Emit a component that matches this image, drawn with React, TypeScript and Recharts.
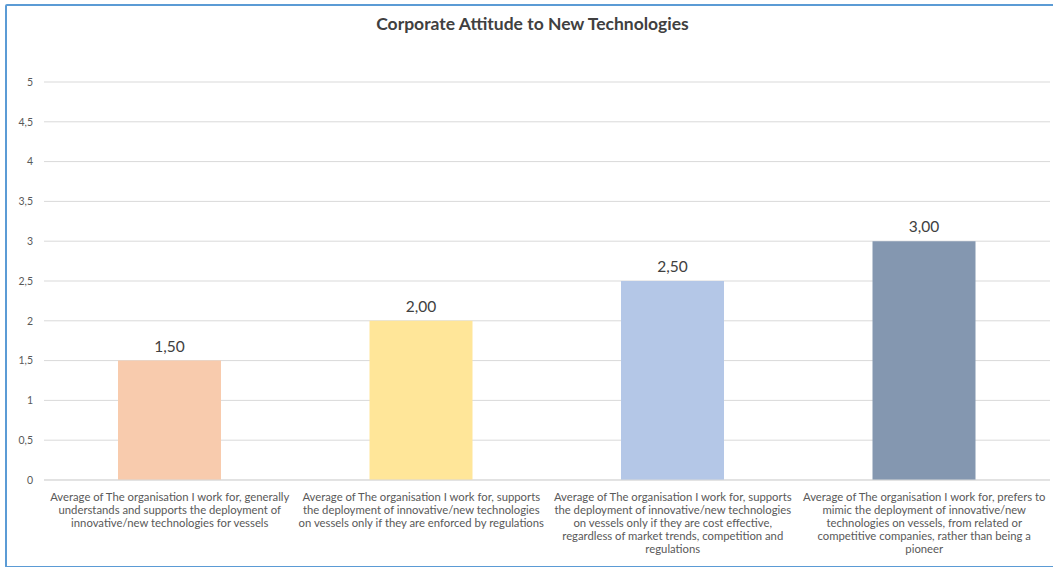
import { BarChart, Bar, XAxis, YAxis, CartesianGrid, Cell, LabelList } from 'recharts';

const categories = [
  'Average of The organisation I work for, generally\nunderstands and supports the deployment of\ninnovative/new technologies for vessels',
  'Average of The organisation I work for, supports\nthe deployment of innovative/new technologies\non vessels only if they are enforced by regulations',
  'Average of The organisation I work for, supports\nthe deployment of innovative/new technologies\non vessels only if they are cost effective,\nregardless of market trends, competition and\nregulations',
  'Average of The organisation I work for, prefers to\nmimic the deployment of innovative/new\ntechnologies on vessels, from related or\ncompetitive companies, rather than being a\npioneer',
];
const values = [1.5, 2.0, 2.5, 3.0];
const colors = ['#f8cbad', '#ffe699', '#b4c7e7', '#8497b0'];
const yTicks = [0, 0.5, 1, 1.5, 2, 2.5, 3, 3.5, 4, 4.5, 5];

const data = categories.map((c, i) => ({ category: c, value: values[i] }));

const FONT = 'Lato, "Open Sans", sans-serif';

const CategoryTick = (props: any) => {
  const { x, y, payload } = props;
  const lines = String(payload.value).split('\n');
  return (
    <g transform={`translate(${x},${y})`}>
      <text textAnchor="middle" fill="#595959" fontSize={11.3} fontFamily={FONT}>
        {lines.map((l, i) => (
          <tspan key={i} x={0} dy={13}>
            {l}
          </tspan>
        ))}
      </text>
    </g>
  );
};

const App = () => {
  return (
    <div style={{ position: 'absolute', left: 0, top: 0, width: 1053, height: 567, background: '#fff', overflow: 'hidden' }}>
      <div
        style={{
          position: 'absolute',
          left: 5,
          top: 4,
          width: 1060,
          height: 560,
          border: '2px solid #5b9bd5',
          borderRadius: 2,
        }}
      />
      <div
        style={{
          position: 'absolute',
          left: 0,
          top: 13,
          width: 1065,
          textAlign: 'center',
          fontFamily: FONT,
          fontWeight: 'bold',
          fontSize: 17.5,
          color: '#404040',
        }}
      >
        Corporate Attitude to New Technologies
      </div>
      <div style={{ position: 'absolute', left: 0, top: 0 }}>
        <BarChart
          width={1053}
          height={567}
          data={data}
          margin={{ top: 82, right: 3, bottom: 7, left: 0 }}
          barSize={103}
        >
          <CartesianGrid vertical={false} stroke="#d9d9d9" />
          <XAxis
            dataKey="category"
            interval={0}
            height={80}
            tickLine={false}
            axisLine={{ stroke: '#d9d9d9' }}
            tick={<CategoryTick />}
          />
          <YAxis
            domain={[0, 5]}
            ticks={yTicks}
            width={44}
            axisLine={false}
            tickLine={false}
            tickMargin={5}
            tick={{ fill: '#595959', fontSize: 10.5, fontFamily: FONT }}
            tickFormatter={(v: number) => String(v).replace('.', ',')}
          />
          <Bar dataKey="value" isAnimationActive={false}>
            {data.map((d, i) => (
              <Cell key={d.category} fill={colors[i]} />
            ))}
            <LabelList
              dataKey="value"
              position="top"
              offset={9}
              fill="#404040"
              fontSize={15.5}
              fontFamily={FONT}
              formatter={(v: any) => Number(v).toFixed(2).replace('.', ',')}
            />
          </Bar>
        </BarChart>
      </div>
    </div>
  );
};

export default App;
